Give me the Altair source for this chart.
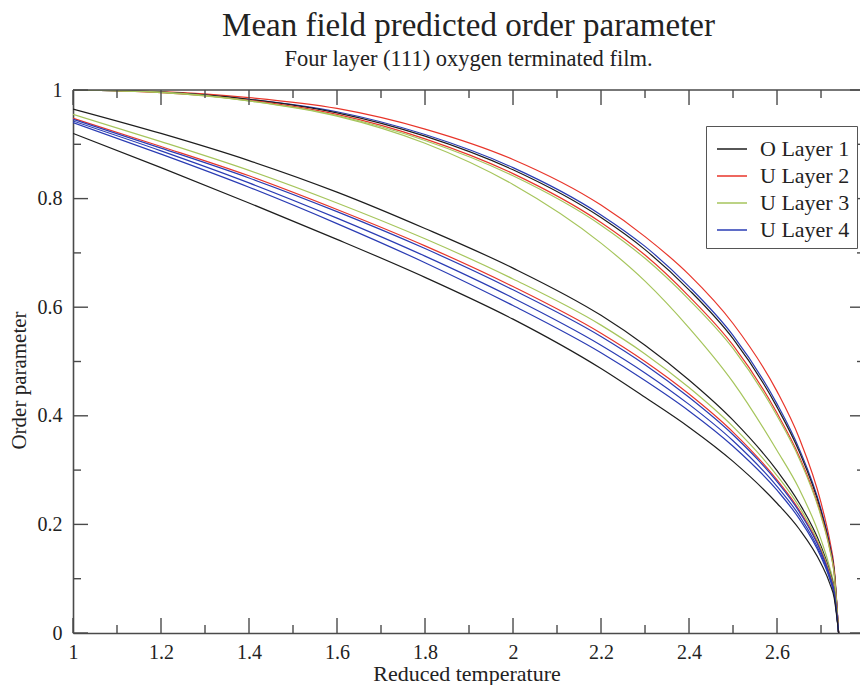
import altair as alt
import pandas as pd

# Reduced temperature grid shared by every curve
temperature = [1.0, 1.2, 1.4, 1.6, 1.8, 2.0, 2.2, 2.3, 2.4, 2.5, 2.6, 2.65, 2.7, 2.72, 2.73, 2.74]

# Upper family of solutions
up_red_top = [1.0, 0.997, 0.986, 0.966, 0.928, 0.872, 0.788, 0.730, 0.660, 0.570, 0.445, 0.360, 0.240, 0.170, 0.120, 0.0]
up_blue    = [1.0, 0.996, 0.983, 0.960, 0.918, 0.857, 0.770, 0.712, 0.638, 0.548, 0.422, 0.340, 0.228, 0.162, 0.115, 0.0]
up_black   = [1.0, 0.996, 0.983, 0.958, 0.915, 0.853, 0.765, 0.706, 0.632, 0.542, 0.416, 0.335, 0.224, 0.159, 0.113, 0.0]
up_red     = [1.0, 0.995, 0.981, 0.955, 0.910, 0.846, 0.756, 0.696, 0.620, 0.530, 0.405, 0.326, 0.218, 0.155, 0.110, 0.0]
up_green   = [1.0, 0.995, 0.980, 0.953, 0.907, 0.842, 0.751, 0.690, 0.614, 0.524, 0.400, 0.322, 0.215, 0.153, 0.108, 0.0]
up_green_low = [1.0, 0.996, 0.980, 0.952, 0.902, 0.826, 0.718, 0.648, 0.562, 0.462, 0.336, 0.266, 0.172, 0.120, 0.085, 0.0]

# Lower family of solutions
lo_black_top = [0.965, 0.920, 0.870, 0.812, 0.745, 0.672, 0.585, 0.530, 0.466, 0.392, 0.299, 0.240, 0.160, 0.113, 0.080, 0.0]
lo_green     = [0.955, 0.905, 0.852, 0.792, 0.726, 0.652, 0.567, 0.514, 0.452, 0.380, 0.290, 0.233, 0.155, 0.110, 0.078, 0.0]
lo_red       = [0.948, 0.896, 0.842, 0.780, 0.713, 0.638, 0.552, 0.500, 0.440, 0.370, 0.282, 0.227, 0.151, 0.107, 0.076, 0.0]
lo_blue1     = [0.946, 0.893, 0.838, 0.776, 0.708, 0.632, 0.546, 0.494, 0.434, 0.365, 0.279, 0.224, 0.149, 0.105, 0.075, 0.0]
lo_blue2     = [0.943, 0.888, 0.829, 0.764, 0.694, 0.617, 0.530, 0.479, 0.421, 0.354, 0.270, 0.217, 0.144, 0.102, 0.072, 0.0]
lo_blue3     = [0.940, 0.882, 0.821, 0.754, 0.682, 0.603, 0.516, 0.465, 0.409, 0.344, 0.263, 0.211, 0.140, 0.099, 0.070, 0.0]
lo_black_bot = [0.920, 0.857, 0.792, 0.725, 0.655, 0.578, 0.487, 0.434, 0.379, 0.316, 0.239, 0.192, 0.128, 0.091, 0.064, 0.0]

layer_names = ["O Layer 1", "U Layer 2", "U Layer 3", "U Layer 4"]
layer_colors = ["#1e1e1e", "#e8352a", "#a6c55c", "#2a3cb4"]

curves = [
    ("U Layer 2", "up_red_top", up_red_top),
    ("U Layer 4", "up_blue", up_blue),
    ("O Layer 1", "up_black", up_black),
    ("U Layer 2", "up_red", up_red),
    ("U Layer 3", "up_green", up_green),
    ("U Layer 3", "up_green_low", up_green_low),
    ("O Layer 1", "lo_black_top", lo_black_top),
    ("U Layer 3", "lo_green", lo_green),
    ("U Layer 2", "lo_red", lo_red),
    ("U Layer 4", "lo_blue1", lo_blue1),
    ("U Layer 4", "lo_blue2", lo_blue2),
    ("U Layer 4", "lo_blue3", lo_blue3),
    ("O Layer 1", "lo_black_bot", lo_black_bot),
]

# Axis tick positions
x_major = [1.0, 1.2, 1.4, 1.6, 1.8, 2.0, 2.2, 2.4, 2.6]
x_minor = [1.1, 1.3, 1.5, 1.7, 1.9, 2.1, 2.3, 2.5, 2.7]
y_major = [0.0, 0.2, 0.4, 0.6, 0.8, 1.0]
y_minor = [0.1, 0.3, 0.5, 0.7, 0.9]

rows = []
for layer, name, values in curves:
    for t, m in zip(temperature, values):
        rows.append({"T": t, "m": m, "layer": layer, "curve": name})
df = pd.DataFrame(rows)

W, H = 787, 543
FONT = "Liberation Serif"
FRAME = "#4a4a4a"
MAJOR, MINOR = 15, 8

xs = alt.Scale(domain=[1.0, 2.7886], nice=False, zero=False)
ys = alt.Scale(domain=[0.0, 1.0], nice=False, zero=False)

lines = alt.Chart(df).mark_line(strokeWidth=1.2, clip=True, interpolate="monotone").encode(
    x=alt.X("T:Q", scale=xs, axis=alt.Axis(
        title="Reduced temperature", values=x_major, format="~g",
        ticks=False, tickSize=0, grid=False, domain=True, domainColor=FRAME, domainWidth=1.6,
        labelFont=FONT, labelFontSize=20, labelColor="#222", labelPadding=9, labelFlush=False,
        titleFont=FONT, titleFontSize=22, titleFontWeight="normal", titleColor="#222", titlePadding=1)),
    y=alt.Y("m:Q", scale=ys, axis=alt.Axis(
        title="Order parameter", values=y_major, format="~g",
        ticks=False, tickSize=0, grid=False, domain=True, domainColor=FRAME, domainWidth=1.6,
        labelFont=FONT, labelFontSize=20, labelColor="#222", labelPadding=11, labelFlush=False,
        titleFont=FONT, titleFontSize=21, titleFontWeight="normal", titleColor="#222",
        titleX=-54, titleY=290, titleBaseline="middle")),
    color=alt.Color("layer:N", scale=alt.Scale(domain=layer_names, range=layer_colors), legend=alt.Legend(
        title=None, orient="none", legendX=633, legendY=36,
        symbolType="stroke", symbolSize=900, symbolStrokeWidth=1.5, symbolOffset=3,
        labelFont=FONT, labelFontSize=22, labelColor="#222", labelOffset=12,
        padding=7, rowPadding=0, strokeColor="#555", fillColor="white")),
    detail="curve:N",
)


def x_ticks(values, length):
    base = alt.Chart(pd.DataFrame({"T": values}))
    bottom = base.mark_rule(color=FRAME, strokeWidth=1.4).encode(
        x=alt.X("T:Q", scale=xs), y=alt.value(H), y2=alt.value(H - length))
    top = base.mark_rule(color=FRAME, strokeWidth=1.4).encode(
        x=alt.X("T:Q", scale=xs), y=alt.value(0), y2=alt.value(length))
    return [bottom, top]


def y_ticks(values, length, right_length):
    base = alt.Chart(pd.DataFrame({"m": values}))
    left = base.mark_rule(color=FRAME, strokeWidth=1.4).encode(
        y=alt.Y("m:Q", scale=ys), x=alt.value(0), x2=alt.value(length))
    right = base.mark_rule(color=FRAME, strokeWidth=1.4).encode(
        y=alt.Y("m:Q", scale=ys), x=alt.value(W), x2=alt.value(W - right_length))
    return [left, right]


top_frame = alt.Chart(pd.DataFrame({"m": [1.0]})).mark_rule(color=FRAME, strokeWidth=1.6).encode(
    y=alt.Y("m:Q", scale=ys), x=alt.value(0), x2=alt.value(W))

chart = alt.layer(
    lines,
    top_frame,
    *x_ticks(x_major, MAJOR), *x_ticks(x_minor, MINOR),
    *y_ticks(y_major, MAJOR, 10), *y_ticks(y_minor, MINOR, 3),
).properties(
    width=W, height=H,
    title=alt.Title(
        "Mean field predicted order parameter",
        subtitle="Four layer (111) oxygen terminated film.",
        font=FONT, fontSize=33, fontWeight="normal", color="#222",
        subtitleFont=FONT, subtitleFontSize=22.5, subtitleColor="#222",
        anchor="middle", frame="group", offset=10, subtitlePadding=5, dx=2),
    autosize=alt.AutoSizeParams(type="none"),
    padding={"left": 73, "top": 90, "right": 0, "bottom": 52},
    background="white",
).configure_view(stroke=None)

chart.save("out.html", embed_options={"renderer": "svg", "actions": False})
